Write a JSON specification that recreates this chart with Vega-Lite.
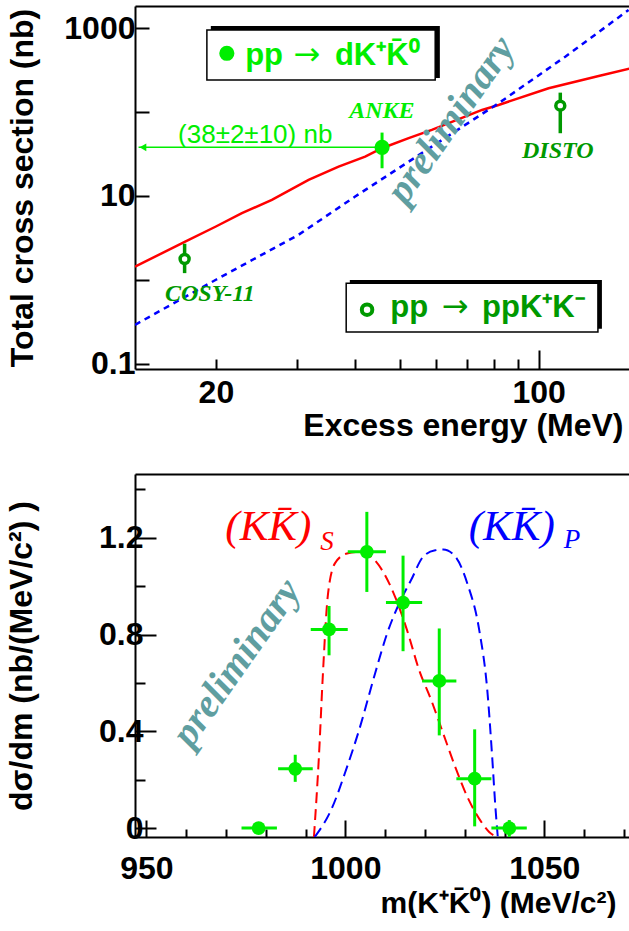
{
  "$schema": "https://vega.github.io/schema/vega-lite/v6.json",
  "background": "white",
  "padding": {"left": 5, "right": 0, "top": 6, "bottom": 0},
  "spacing": 33,
  "config": {
    "view": {"stroke": null},
    "font": "Liberation Sans",
    "axis": {
      "grid": false,
      "domainColor": "black", "domainWidth": 2,
      "tickColor": "black", "tickWidth": 2,
      "labelFont": "Liberation Sans", "labelFontWeight": "bold", "labelFontSize": 32, "labelColor": "black",
      "labelOverlap": false, "labelFlush": false,
      "titleFont": "Liberation Sans", "titleFontWeight": "bold", "titleFontSize": 32, "titleColor": "black"
    }
  },
  "datasets": {
    "topRed": [
      {"q": 13.36, "s": 1.43}, {"q": 17.16, "s": 2.86}, {"q": 20, "s": 4.32}, {"q": 22.77, "s": 6.24},
      {"q": 26.44, "s": 8.98}, {"q": 31.75, "s": 15.56}, {"q": 36.88, "s": 22.4}, {"q": 42.1, "s": 29.5},
      {"q": 45.77, "s": 37.1}, {"q": 52.3, "s": 48.9}, {"q": 58.7, "s": 61.3}, {"q": 75.4, "s": 106.2},
      {"q": 81.9, "s": 121.8}, {"q": 105.1, "s": 192.7}, {"q": 134.9, "s": 270}, {"q": 158.5, "s": 334}
    ],
    "topBlue": [
      {"q": 13.36, "s": 0.29}, {"q": 20, "s": 1.0}, {"q": 30.2, "s": 3.44}, {"q": 40.05, "s": 9.84},
      {"q": 58.7, "s": 38.8}, {"q": 81.9, "s": 127.6}, {"q": 114.2, "s": 458.6}, {"q": 156.6, "s": 1652}
    ],
    "topPoints": [
      {"exp": "ANKE", "reaction": "dKK", "q": 45.8, "s": 38, "lo": 21.4, "hi": 57.0},
      {"exp": "COSY-11", "reaction": "ppKK", "q": 17.11, "s": 1.77, "lo": 1.2, "hi": 2.69},
      {"exp": "DISTO", "reaction": "ppKK", "q": 111.4, "s": 119.5, "lo": 56, "hi": 170.8}
    ],
    "boxes": [
      {"x1": 19.12, "x2": 59.7, "y1": 242, "y2": 954, "sx1": 19.5, "sx2": 61.1, "sy1": 255.6, "sy2": 1065},
      {"x1": 38.3, "x2": 134.4, "y1": 0.238, "y2": 0.906, "sx1": 39.0, "sx2": 137.1, "sy1": 0.2606, "sy2": 0.992}
    ],
    "legendSym": [
      {"reaction": "dKK", "q": 21.12, "s": 503.5},
      {"reaction": "ppKK", "q": 42.5, "s": 0.44}
    ],
    "legendText": [
      {"reaction": "dKK", "part": "text", "q": 23.14, "s": 365, "t": "pp"},
      {"reaction": "dKK", "part": "arrow", "q": 31.49, "s": 365, "t": "→"},
      {"reaction": "dKK", "part": "text", "q": 36.21, "s": 365, "t": "dK⁺K̄⁰"},
      {"reaction": "ppKK", "part": "text", "q": 47.7, "s": 0.359, "t": "pp"},
      {"reaction": "ppKK", "part": "arrow", "q": 65.96, "s": 0.359, "t": "→"},
      {"reaction": "ppKK", "part": "text", "q": 75.4, "s": 0.359, "t": "ppK⁺K⁻"}
    ],
    "expLabels": [
      {"reaction": "dKK", "q": 45.77, "s": 84.6, "t": "ANKE"},
      {"reaction": "ppKK", "q": 110, "s": 28.5, "t": "DISTO"},
      {"reaction": "ppKK", "q": 19.41, "s": 0.551, "t": "COSY-11"}
    ],
    "arrow": [{"q1": 13.6, "q2": 45.8, "s": 38, "qa": 13.9, "qt": 24.33, "st": 42.6, "t": "(38±2±10) nb"}],
    "prelimTop": [{"q": 64.6, "s": 80.7, "t": "preliminary"}],
    "swave": [
      {"m": 992.1, "v": -0.037}, {"m": 993.35, "v": 0.294}, {"m": 994.36, "v": 0.638}, {"m": 995.56, "v": 0.956},
      {"m": 997.37, "v": 1.094}, {"m": 1000.41, "v": 1.135}, {"m": 1003.43, "v": 1.142}, {"m": 1006.45, "v": 1.122},
      {"m": 1009.49, "v": 1.059}, {"m": 1012.5, "v": 0.956}, {"m": 1015.52, "v": 0.817}, {"m": 1018.56, "v": 0.652},
      {"m": 1021.58, "v": 0.529}, {"m": 1024.59, "v": 0.391}, {"m": 1027.63, "v": 0.252}, {"m": 1030.65, "v": 0.129},
      {"m": 1033.66, "v": 0.038}, {"m": 1036.2, "v": -0.017}, {"m": 1038.21, "v": -0.037}
    ],
    "pwave": [
      {"m": 992.3, "v": -0.037}, {"m": 996.37, "v": 0.073}, {"m": 1000.41, "v": 0.252}, {"m": 1003.43, "v": 0.404},
      {"m": 1007.45, "v": 0.638}, {"m": 1010.49, "v": 0.804}, {"m": 1013.51, "v": 0.928}, {"m": 1016.52, "v": 1.025},
      {"m": 1019.57, "v": 1.122}, {"m": 1022.58, "v": 1.148}, {"m": 1024.59, "v": 1.151}, {"m": 1027.63, "v": 1.122},
      {"m": 1030.65, "v": 1.011}, {"m": 1033.66, "v": 0.817}, {"m": 1035.67, "v": 0.57}, {"m": 1036.9, "v": 0.294},
      {"m": 1037.71, "v": 0.087}, {"m": 1038.31, "v": -0.037}
    ],
    "mass": [
      {"m": 978.2, "v": 0.0, "mlo": 973.9, "mhi": 982.8, "vlo": 0.0, "vhi": 0.0},
      {"m": 987.4, "v": 0.245, "mlo": 983.1, "mhi": 991.8, "vlo": 0.191, "vhi": 0.303},
      {"m": 995.9, "v": 0.821, "mlo": 991.3, "mhi": 1000.6, "vlo": 0.714, "vhi": 0.918},
      {"m": 1005.4, "v": 1.142, "mlo": 1000.6, "mhi": 1010.2, "vlo": 0.976, "vhi": 1.307},
      {"m": 1014.5, "v": 0.932, "mlo": 1010.2, "mhi": 1019.3, "vlo": 0.731, "vhi": 1.126},
      {"m": 1023.6, "v": 0.608, "mlo": 1019.3, "mhi": 1027.9, "vlo": 0.383, "vhi": 0.825},
      {"m": 1032.5, "v": 0.204, "mlo": 1027.9, "mhi": 1036.7, "vlo": 0.007, "vhi": 0.408},
      {"m": 1041.2, "v": 0.0, "mlo": 1036.7, "mhi": 1045.6, "vlo": -0.037, "vhi": 0.033}
    ],
    "waveLabels": [
      {"wave": "S", "m": 969.83, "v": 1.19, "t": "(KK̄)", "ms": 993.7, "vs": 1.149},
      {"wave": "P", "m": 1031.0, "v": 1.19, "t": "(KK̄)", "ms": 1054.87, "vs": 1.156}
    ],
    "prelimBottom": [{"m": 972.7, "v": 0.683, "t": "preliminary"}]
  },
  "vconcat": [
    {
      "width": 496,
      "height": 363,
      "resolve": {"axis": {"x": "independent"}},
      "layer": [
        {
          "data": {"name": "topRed"},
          "mark": {"type": "line", "color": "#ff0000", "strokeWidth": 2.5, "clip": true},
          "encoding": {
            "x": {"field": "q", "type": "quantitative",
              "scale": {"type": "log", "domain": [13.36, 158.5], "nice": false},
              "axis": {"orient": "bottom", "values": [20, 30, 40, 50, 60, 70, 80, 90], "tickSize": -10,
                "labelExpr": "datum.value == 20 ? '20' : ''", "labelPadding": 18,
                "title": "Excess energy (MeV)", "titleX": 488, "titleAlign": "right", "titlePadding": 2}},
            "y": {"field": "s", "type": "quantitative",
              "scale": {"type": "log", "domain": [0.0862, 1845], "nice": false},
              "axis": {"values": [0.1, 1, 10, 100, 1000], "tickSize": -14,
                "labelExpr": "datum.value == 1000 ? '1000' : datum.value == 10 ? '10' : datum.value == 0.1 ? '0.1' : ''",
                "labelPadding": 14, "title": "Total cross section (nb)", "titlePadding": 24}}
          }
        },
        {
          "data": {"name": "topBlue"},
          "mark": {"type": "line", "color": "#0000ff", "strokeWidth": 2.5, "strokeDash": [6, 5], "clip": true},
          "encoding": {
            "x": {"field": "q", "type": "quantitative",
              "axis": {"orient": "bottom", "values": [100], "tickSize": -19, "domain": false,
                "labelExpr": "'100'", "labelPadding": 27, "title": null}},
            "y": {"field": "s", "type": "quantitative"}
          }
        },
        {
          "data": {"name": "boxes"},
          "mark": {"type": "rect", "color": "black"},
          "encoding": {
            "x": {"field": "sx1", "type": "quantitative",
              "axis": {"orient": "top", "labels": false, "ticks": false, "title": null, "domain": true}},
            "x2": {"field": "sx2"},
            "y": {"field": "sy1", "type": "quantitative"},
            "y2": {"field": "sy2"}
          }
        },
        {
          "data": {"name": "boxes"},
          "mark": {"type": "rect", "fill": "white", "stroke": "black", "strokeWidth": 1.5},
          "encoding": {
            "x": {"field": "x1", "type": "quantitative", "axis": null},
            "x2": {"field": "x2"},
            "y": {"field": "y1", "type": "quantitative"},
            "y2": {"field": "y2"}
          }
        },
        {
          "data": {"name": "legendSym"},
          "transform": [{"filter": "datum.reaction == 'dKK'"}],
          "mark": {"type": "point", "shape": "circle", "filled": true, "color": "#00ee00", "size": 230, "opacity": 1},
          "encoding": {
            "x": {"field": "q", "type": "quantitative", "axis": null},
            "y": {"field": "s", "type": "quantitative"}
          }
        },
        {
          "data": {"name": "legendSym"},
          "transform": [{"filter": "datum.reaction == 'ppKK'"}],
          "mark": {"type": "point", "shape": "circle", "filled": false, "fill": "white", "stroke": "#009900", "strokeWidth": 4, "size": 110, "opacity": 1},
          "encoding": {
            "x": {"field": "q", "type": "quantitative", "axis": null},
            "y": {"field": "s", "type": "quantitative"}
          }
        },
        {
          "data": {"name": "legendText"},
          "transform": [{"filter": "datum.reaction == 'dKK' && datum.part == 'text'"}],
          "mark": {"type": "text", "align": "left", "baseline": "alphabetic", "font": "Liberation Sans", "fontWeight": "bold", "fontSize": 31, "color": "#00ee00"},
          "encoding": {
            "x": {"field": "q", "type": "quantitative", "axis": null},
            "y": {"field": "s", "type": "quantitative"},
            "text": {"field": "t"}
          }
        },
        {
          "data": {"name": "legendText"},
          "transform": [{"filter": "datum.reaction == 'ppKK' && datum.part == 'text'"}],
          "mark": {"type": "text", "align": "left", "baseline": "alphabetic", "font": "Liberation Sans", "fontWeight": "bold", "fontSize": 31, "color": "#009900"},
          "encoding": {
            "x": {"field": "q", "type": "quantitative", "axis": null},
            "y": {"field": "s", "type": "quantitative"},
            "text": {"field": "t"}
          }
        },
        {
          "data": {"name": "legendText"},
          "transform": [{"filter": "datum.reaction == 'dKK' && datum.part == 'arrow'"}],
          "mark": {"type": "text", "align": "center", "baseline": "alphabetic", "font": "DejaVu Sans", "fontSize": 32, "color": "#00ee00"},
          "encoding": {
            "x": {"field": "q", "type": "quantitative", "axis": null},
            "y": {"field": "s", "type": "quantitative"},
            "text": {"field": "t"}
          }
        },
        {
          "data": {"name": "legendText"},
          "transform": [{"filter": "datum.reaction == 'ppKK' && datum.part == 'arrow'"}],
          "mark": {"type": "text", "align": "center", "baseline": "alphabetic", "font": "DejaVu Sans", "fontSize": 32, "color": "#009900"},
          "encoding": {
            "x": {"field": "q", "type": "quantitative", "axis": null},
            "y": {"field": "s", "type": "quantitative"},
            "text": {"field": "t"}
          }
        },
        {
          "data": {"name": "arrow"},
          "mark": {"type": "rule", "color": "#00ee00", "strokeWidth": 1.5},
          "encoding": {
            "x": {"field": "q1", "type": "quantitative", "axis": null},
            "x2": {"field": "q2"},
            "y": {"field": "s", "type": "quantitative"}
          }
        },
        {
          "data": {"name": "arrow"},
          "mark": {"type": "point", "shape": "triangle-left", "filled": true, "color": "#00ee00", "size": 60, "opacity": 1},
          "encoding": {
            "x": {"field": "qa", "type": "quantitative", "axis": null},
            "y": {"field": "s", "type": "quantitative"}
          }
        },
        {
          "data": {"name": "arrow"},
          "mark": {"type": "text", "align": "center", "baseline": "alphabetic", "font": "Liberation Sans", "fontSize": 26, "color": "#00ee00"},
          "encoding": {
            "x": {"field": "qt", "type": "quantitative", "axis": null},
            "y": {"field": "st", "type": "quantitative"},
            "text": {"field": "t"}
          }
        },
        {
          "data": {"name": "topPoints"},
          "transform": [{"filter": "datum.reaction == 'dKK'"}],
          "mark": {"type": "rule", "color": "#00ee00", "strokeWidth": 3},
          "encoding": {
            "x": {"field": "q", "type": "quantitative", "axis": null},
            "y": {"field": "lo", "type": "quantitative"},
            "y2": {"field": "hi"}
          }
        },
        {
          "data": {"name": "topPoints"},
          "transform": [{"filter": "datum.reaction == 'ppKK'"}],
          "mark": {"type": "rule", "color": "#009900", "strokeWidth": 3.5},
          "encoding": {
            "x": {"field": "q", "type": "quantitative", "axis": null},
            "y": {"field": "lo", "type": "quantitative"},
            "y2": {"field": "hi"}
          }
        },
        {
          "data": {"name": "topPoints"},
          "transform": [{"filter": "datum.reaction == 'dKK'"}],
          "mark": {"type": "point", "shape": "circle", "filled": true, "color": "#00ee00", "size": 230, "opacity": 1},
          "encoding": {
            "x": {"field": "q", "type": "quantitative", "axis": null},
            "y": {"field": "s", "type": "quantitative"}
          }
        },
        {
          "data": {"name": "topPoints"},
          "transform": [{"filter": "datum.reaction == 'ppKK'"}],
          "mark": {"type": "point", "shape": "circle", "filled": false, "fill": "white", "stroke": "#009900", "strokeWidth": 3.5, "size": 80, "opacity": 1},
          "encoding": {
            "x": {"field": "q", "type": "quantitative", "axis": null},
            "y": {"field": "s", "type": "quantitative"}
          }
        },
        {
          "data": {"name": "expLabels"},
          "transform": [{"filter": "datum.reaction == 'dKK'"}],
          "mark": {"type": "text", "align": "center", "baseline": "alphabetic", "font": "Liberation Serif", "fontStyle": "italic", "fontWeight": "bold", "fontSize": 24, "color": "#00ee00"},
          "encoding": {
            "x": {"field": "q", "type": "quantitative", "axis": null},
            "y": {"field": "s", "type": "quantitative"},
            "text": {"field": "t"}
          }
        },
        {
          "data": {"name": "expLabels"},
          "transform": [{"filter": "datum.reaction == 'ppKK'"}],
          "mark": {"type": "text", "align": "center", "baseline": "alphabetic", "font": "Liberation Serif", "fontStyle": "italic", "fontWeight": "bold", "fontSize": 24, "color": "#009900"},
          "encoding": {
            "x": {"field": "q", "type": "quantitative", "axis": null},
            "y": {"field": "s", "type": "quantitative"},
            "text": {"field": "t"}
          }
        },
        {
          "data": {"name": "prelimTop"},
          "mark": {"type": "text", "align": "center", "baseline": "middle", "angle": -55, "font": "Liberation Serif", "fontStyle": "italic", "fontWeight": "bold", "fontSize": 40, "color": "#5f9ea0"},
          "encoding": {
            "x": {"field": "q", "type": "quantitative", "axis": null},
            "y": {"field": "s", "type": "quantitative"},
            "text": {"field": "t"}
          }
        }
      ]
    },
    {
      "width": 496,
      "height": 363,
      "resolve": {"axis": {"x": "independent", "y": "independent"}},
      "layer": [
        {
          "data": {"name": "swave"},
          "mark": {"type": "line", "color": "#ff0000", "strokeWidth": 2, "strokeDash": [11, 6], "interpolate": "monotone", "clip": true},
          "encoding": {
            "x": {"field": "m", "type": "quantitative",
              "scale": {"domain": [947.13, 1071.79], "nice": false, "zero": false},
              "axis": {"orient": "bottom", "values": [950, 1000, 1050], "tickSize": -17, "format": "d", "labelPadding": 33,
                "title": "m(K⁺K̄⁰) (MeV/c²)", "titleFontSize": 30, "titleX": 481, "titleAlign": "right", "titlePadding": 4}},
            "y": {"field": "v", "type": "quantitative",
              "scale": {"domain": [-0.037, 1.4635], "nice": false, "zero": false},
              "axis": {"orient": "left", "values": [0, 0.4, 0.8, 1.2], "tickSize": -21,
                "labelExpr": "datum.value == 0 ? '0' : format(datum.value, '.1f')", "labelPadding": 13,
                "title": "dσ/dm (nb/(MeV/c²) )", "titlePadding": 60}}
          }
        },
        {
          "data": {"name": "pwave"},
          "mark": {"type": "line", "color": "#0000ff", "strokeWidth": 2, "strokeDash": [11, 6], "interpolate": "monotone", "clip": true},
          "encoding": {
            "x": {"field": "m", "type": "quantitative",
              "axis": {"orient": "bottom", "values": [960, 970, 980, 990, 1010, 1020, 1030, 1040, 1060, 1070], "tickSize": -8,
                "labels": false, "domain": false, "title": null}},
            "y": {"field": "v", "type": "quantitative",
              "axis": {"orient": "left", "values": [0.2, 0.6, 1.0, 1.4], "tickSize": -10, "labels": false, "domain": false, "title": null}}
          }
        },
        {
          "data": {"name": "mass"},
          "mark": {"type": "rule", "color": "#00ee00", "strokeWidth": 3, "clip": true},
          "encoding": {
            "x": {"field": "mlo", "type": "quantitative",
              "axis": {"orient": "top", "labels": false, "ticks": false, "title": null, "domain": true}},
            "x2": {"field": "mhi"},
            "y": {"field": "v", "type": "quantitative", "axis": null}
          }
        },
        {
          "data": {"name": "mass"},
          "mark": {"type": "rule", "color": "#00ee00", "strokeWidth": 3, "clip": true},
          "encoding": {
            "x": {"field": "m", "type": "quantitative", "axis": null},
            "y": {"field": "vlo", "type": "quantitative", "axis": null},
            "y2": {"field": "vhi"}
          }
        },
        {
          "data": {"name": "mass"},
          "mark": {"type": "point", "shape": "circle", "filled": true, "color": "#00ee00", "size": 190, "opacity": 1},
          "encoding": {
            "x": {"field": "m", "type": "quantitative", "axis": null},
            "y": {"field": "v", "type": "quantitative", "axis": null}
          }
        },
        {
          "data": {"name": "waveLabels"},
          "transform": [{"filter": "datum.wave == 'S'"}],
          "layer": [
            {
              "mark": {"type": "text", "align": "left", "baseline": "alphabetic", "font": "Liberation Serif", "fontStyle": "italic", "fontSize": 43, "color": "#ff0000"},
              "encoding": {
                "x": {"field": "m", "type": "quantitative", "axis": null},
                "y": {"field": "v", "type": "quantitative", "axis": null},
                "text": {"field": "t"}
              }
            },
            {
              "mark": {"type": "text", "align": "left", "baseline": "alphabetic", "font": "Liberation Serif", "fontStyle": "italic", "fontSize": 27, "color": "#ff0000"},
              "encoding": {
                "x": {"field": "ms", "type": "quantitative", "axis": null},
                "y": {"field": "vs", "type": "quantitative", "axis": null},
                "text": {"field": "wave"}
              }
            }
          ]
        },
        {
          "data": {"name": "waveLabels"},
          "transform": [{"filter": "datum.wave == 'P'"}],
          "layer": [
            {
              "mark": {"type": "text", "align": "left", "baseline": "alphabetic", "font": "Liberation Serif", "fontStyle": "italic", "fontSize": 43, "color": "#0000ff"},
              "encoding": {
                "x": {"field": "m", "type": "quantitative", "axis": null},
                "y": {"field": "v", "type": "quantitative", "axis": null},
                "text": {"field": "t"}
              }
            },
            {
              "mark": {"type": "text", "align": "left", "baseline": "alphabetic", "font": "Liberation Serif", "fontStyle": "italic", "fontSize": 27, "color": "#0000ff"},
              "encoding": {
                "x": {"field": "ms", "type": "quantitative", "axis": null},
                "y": {"field": "vs", "type": "quantitative", "axis": null},
                "text": {"field": "wave"}
              }
            }
          ]
        },
        {
          "data": {"name": "prelimBottom"},
          "mark": {"type": "text", "align": "center", "baseline": "middle", "angle": -55, "font": "Liberation Serif", "fontStyle": "italic", "fontWeight": "bold", "fontSize": 40, "color": "#5f9ea0"},
          "encoding": {
            "x": {"field": "m", "type": "quantitative", "axis": null},
            "y": {"field": "v", "type": "quantitative", "axis": null},
            "text": {"field": "t"}
          }
        }
      ]
    }
  ]
}
